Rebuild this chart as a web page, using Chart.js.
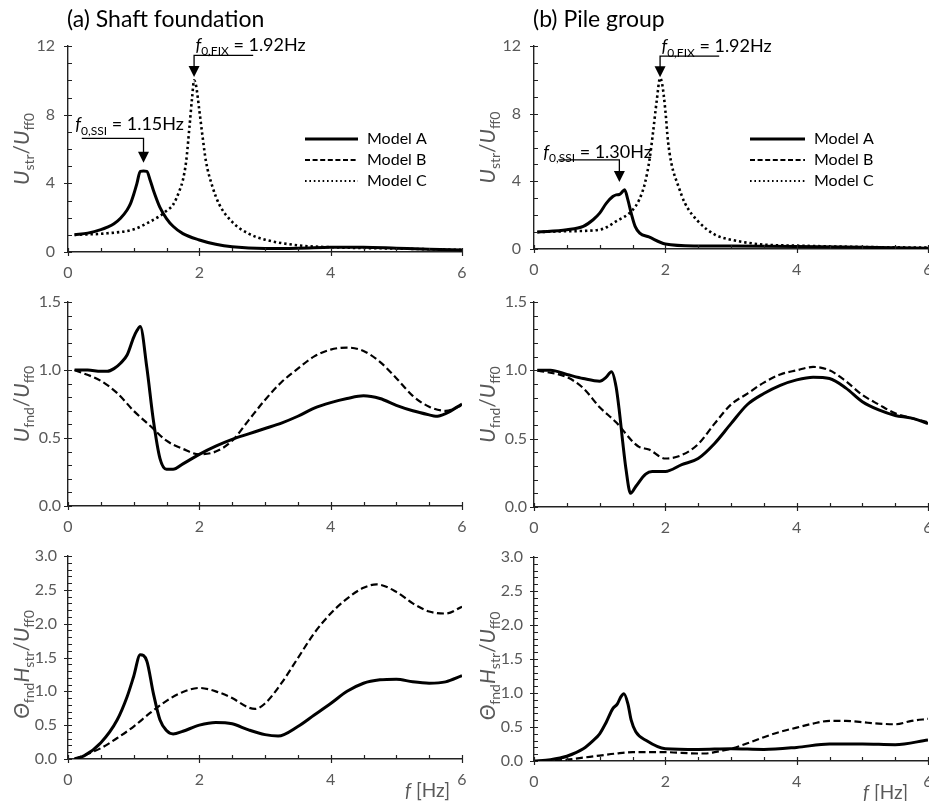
<!DOCTYPE html>
<html>
<head>
<meta charset="utf-8">
<script src="https://cdn.jsdelivr.net/npm/chart.js@4.4.0/dist/chart.umd.min.js"></script>
<style>
  body { margin: 0; width: 929px; height: 801px; overflow: hidden; background: #fff; position: relative; }
  canvas { position: absolute; }
</style>
</head>
<body>
<script>
// ---- data ----
const freqTicks = [0, 2, 4, 6];

// (a) shaft foundation, U_str / U_ff0
const shaftStrFreqA = [0.1, 0.3, 0.5, 0.6, 0.7, 0.8, 0.9, 0.95, 1.0, 1.05, 1.1, 1.15, 1.2, 1.25, 1.3, 1.4, 1.5, 1.6, 1.75, 2.0, 2.25, 2.5, 3.0, 3.5, 4.0, 4.5, 5.0, 5.5, 6.0];
const shaftStrA = [1.0, 1.1, 1.3, 1.45, 1.65, 1.97, 2.45, 2.8, 3.35, 4.0, 4.7, 4.72, 4.7, 4.2, 3.6, 2.6, 1.95, 1.5, 1.07, 0.7, 0.45, 0.3, 0.2, 0.22, 0.27, 0.28, 0.22, 0.16, 0.12];
const shaftStrFreqC = [0.1, 0.6, 1.0, 1.25, 1.4, 1.5, 1.6, 1.7, 1.75, 1.8, 1.85, 1.89, 1.92, 1.95, 2.0, 2.05, 2.1, 2.2, 2.3, 2.5, 2.75, 3.0, 3.5, 4.0, 5.0, 6.0];
const shaftStrC = [1.0, 1.09, 1.32, 1.77, 2.1, 2.4, 2.75, 3.6, 4.2, 5.3, 7.3, 9.0, 10.0, 9.7, 8.25, 6.7, 5.3, 3.8, 2.8, 1.75, 1.07, 0.72, 0.39, 0.28, 0.2, 0.12];

// (b) pile group, U_str / U_ff0
const pileStrFreqA = [0.05, 0.5, 0.75, 0.9, 1.0, 1.1, 1.2, 1.25, 1.3, 1.35, 1.38, 1.43, 1.48, 1.54, 1.61, 1.75, 2.0, 2.5, 3.0, 4.0, 5.0, 6.0];
const pileStrA = [1.0, 1.14, 1.34, 1.73, 2.12, 2.7, 3.1, 3.2, 3.22, 3.4, 3.5, 2.9, 2.12, 1.34, 0.94, 0.71, 0.3, 0.18, 0.17, 0.15, 0.1, 0.05];
const pileStrFreqC = [0.05, 0.5, 1.0, 1.25, 1.5, 1.6, 1.69, 1.76, 1.81, 1.87, 1.92, 1.95, 2.0, 2.04, 2.09, 2.2, 2.3, 2.5, 2.76, 3.0, 3.5, 4.0, 5.0, 6.0];
const pileStrC = [1.0, 1.05, 1.14, 1.63, 2.3, 2.9, 3.9, 5.3, 6.8, 8.8, 10.1, 9.8, 8.2, 6.4, 5.1, 3.7, 2.7, 1.63, 0.84, 0.55, 0.26, 0.2, 0.12, 0.08];

// (a) shaft foundation, U_fnd / U_ff0
const shaftFndFreqA = [0.1, 0.3, 0.5, 0.6, 0.7, 0.8, 0.9, 1.0, 1.05, 1.1, 1.2, 1.3, 1.4, 1.5, 1.6, 1.75, 2.0, 2.25, 2.5, 2.75, 3.0, 3.25, 3.5, 3.75, 4.0, 4.25, 4.5, 4.75, 5.0, 5.25, 5.5, 5.6, 5.75, 6.0];
const shaftFndA = [1.0, 1.0, 0.99, 0.99, 1.01, 1.05, 1.11, 1.24, 1.29, 1.32, 1.02, 0.63, 0.35, 0.27, 0.27, 0.31, 0.38, 0.44, 0.49, 0.53, 0.57, 0.61, 0.66, 0.72, 0.76, 0.79, 0.81, 0.79, 0.74, 0.70, 0.67, 0.66, 0.68, 0.75];
const shaftFndFreqB = [0.1, 0.5, 0.75, 1.0, 1.25, 1.5, 1.75, 2.0, 2.25, 2.5, 2.75, 3.0, 3.25, 3.5, 3.75, 4.0, 4.25, 4.5, 4.75, 5.0, 5.25, 5.5, 5.75, 6.0];
const shaftFndB = [1.0, 0.92, 0.83, 0.70, 0.59, 0.48, 0.42, 0.38, 0.40, 0.48, 0.63, 0.78, 0.91, 1.01, 1.10, 1.15, 1.165, 1.14, 1.06, 0.94, 0.81, 0.73, 0.70, 0.74];

// (b) pile group, U_fnd / U_ff0
const pileFndFreqA = [0.05, 0.25, 0.5, 0.75, 1.0, 1.1, 1.18, 1.25, 1.3, 1.35, 1.4, 1.47, 1.55, 1.7, 1.8, 2.0, 2.25, 2.5, 2.75, 3.0, 3.25, 3.5, 3.75, 4.0, 4.25, 4.5, 4.75, 5.0, 5.25, 5.5, 5.75, 6.0];
const pileFndA = [1.0, 1.0, 0.97, 0.94, 0.92, 0.95, 0.99, 0.88, 0.7, 0.48, 0.28, 0.10, 0.15, 0.24, 0.26, 0.26, 0.31, 0.355, 0.465, 0.61, 0.75, 0.83, 0.89, 0.93, 0.95, 0.94, 0.87, 0.77, 0.71, 0.67, 0.65, 0.61];
const pileFndFreqB = [0.05, 0.5, 0.75, 1.0, 1.25, 1.5, 1.6, 1.75, 2.0, 2.25, 2.5, 2.75, 3.0, 3.25, 3.5, 3.75, 4.0, 4.25, 4.5, 4.75, 5.0, 5.25, 5.5, 5.75, 6.0];
const pileFndB = [1.0, 0.95, 0.87, 0.73, 0.62, 0.48, 0.44, 0.42, 0.355, 0.38, 0.46, 0.61, 0.75, 0.83, 0.91, 0.97, 1.0, 1.025, 1.0, 0.92, 0.82, 0.75, 0.685, 0.65, 0.62];

// (a) shaft foundation, rotation Θ_fnd H_str / U_ff0
const shaftRotFreqA = [0.1, 0.25, 0.5, 0.75, 0.9, 1.0, 1.1, 1.2, 1.3, 1.4, 1.5, 1.6, 1.75, 2.0, 2.25, 2.5, 2.75, 3.0, 3.2, 3.5, 3.75, 4.0, 4.25, 4.5, 4.75, 5.0, 5.25, 5.5, 5.75, 6.0];
const shaftRotA = [0.0, 0.05, 0.24, 0.58, 0.92, 1.22, 1.54, 1.45, 0.97, 0.58, 0.42, 0.37, 0.41, 0.50, 0.54, 0.52, 0.43, 0.36, 0.34, 0.48, 0.65, 0.82, 1.0, 1.12, 1.17, 1.18, 1.14, 1.12, 1.14, 1.23];
const shaftRotFreqB = [0.1, 0.5, 0.75, 1.0, 1.25, 1.5, 1.75, 2.0, 2.25, 2.5, 2.75, 2.85, 3.0, 3.25, 3.5, 3.75, 4.0, 4.25, 4.5, 4.7, 5.0, 5.25, 5.5, 5.75, 6.0];
const shaftRotB = [0.0, 0.16, 0.31, 0.48, 0.68, 0.86, 0.99, 1.05, 1.0, 0.90, 0.76, 0.74, 0.82, 1.12, 1.49, 1.86, 2.15, 2.37, 2.53, 2.58, 2.47, 2.30, 2.18, 2.15, 2.25];

// (b) pile group, rotation
const pileRotFreqA = [0.0, 0.25, 0.5, 0.75, 0.9, 1.0, 1.1, 1.2, 1.27, 1.32, 1.37, 1.43, 1.48, 1.55, 1.71, 2.0, 2.5, 3.0, 3.5, 4.0, 4.5, 5.0, 5.5, 6.0];
const pileRotA = [0.0, 0.02, 0.07, 0.18, 0.30, 0.40, 0.57, 0.77, 0.84, 0.94, 0.99, 0.84, 0.6, 0.43, 0.30, 0.18, 0.17, 0.18, 0.17, 0.20, 0.25, 0.25, 0.24, 0.31];
const pileRotFreqB = [0.0, 0.5, 0.75, 1.0, 1.25, 1.5, 2.0, 2.5, 2.6, 2.75, 3.0, 3.25, 3.5, 3.75, 4.0, 4.25, 4.5, 4.75, 5.0, 5.25, 5.5, 5.75, 6.0];
const pileRotB = [0.0, 0.02, 0.05, 0.08, 0.11, 0.13, 0.13, 0.11, 0.11, 0.13, 0.18, 0.26, 0.35, 0.43, 0.49, 0.55, 0.59, 0.59, 0.57, 0.55, 0.54, 0.59, 0.62];

const modelNames = ['Model A', 'Model B', 'Model C'];

// ---- styling ----
const fontFamily = 'Lato, "Open Sans", sans-serif';
const axisColor = '#222';
const labelColor = '#595959';
const styleA = { borderWidth: 3, borderDash: [] };
const styleB = { borderWidth: 2.2, borderDash: [7, 3.5] };
const styleC = { borderWidth: 2.6, borderDash: [2.4, 2.9] };

function toPoints(xs, ys) {
  return xs.map((x, i) => ({ x: x, y: ys[i] }));
}

function line(label, xs, ys, style) {
  return {
    label: label,
    data: toPoints(xs, ys),
    borderColor: '#000',
    borderWidth: style.borderWidth,
    borderDash: style.borderDash,
    pointRadius: 0,
    cubicInterpolationMode: 'monotone',
    tension: 0.4,
    fill: false
  };
}

function setFont(ctx, kind, size, subSize) {
  if (kind === 's') ctx.font = subSize + 'px ' + fontFamily;
  else if (kind === 'i') ctx.font = 'italic ' + size + 'px ' + fontFamily;
  else ctx.font = size + 'px ' + fontFamily;
}

function drawRich(ctx, parts, x, y, size, subSize, center) {
  let total = 0;
  parts.forEach(p => { setFont(ctx, p[1], size, subSize); total += ctx.measureText(p[0]).width; });
  let cx = center ? x - total / 2 : x;
  ctx.textAlign = 'left';
  ctx.textBaseline = 'alphabetic';
  parts.forEach(p => {
    setFont(ctx, p[1], size, subSize);
    ctx.fillText(p[0], cx, y + (p[1] === 's' ? size * 0.25 : 0));
    cx += ctx.measureText(p[0]).width;
  });
}

function tickValues(min, max, step) {
  const out = [];
  const n = Math.round((max - min) / step);
  for (let i = 0; i <= n; i++) out.push(+(min + i * step).toFixed(6));
  return out;
}

function isMajor(v, step) {
  return Math.abs(v / step - Math.round(v / step)) < 1e-6;
}

const panelPlugin = {
  id: 'panelDecor',
  afterDraw(chart) {
    const cfg = chart.options.plugins.panelDecor;
    const ctx = chart.ctx;
    const xs = chart.scales.x, ys = chart.scales.y;
    const area = chart.chartArea;
    ctx.save();

    // tick marks: minor inside, major crossing
    ctx.strokeStyle = axisColor;
    ctx.lineWidth = 1.2;
    ctx.beginPath();
    xs.ticks.forEach(t => {
      const px = Math.round(xs.getPixelForValue(t.value)) + 0.5;
      const major = isMajor(t.value, cfg.xMajor);
      ctx.moveTo(px, area.bottom - 4);
      ctx.lineTo(px, area.bottom + (major ? 4 : 0));
    });
    ys.ticks.forEach(t => {
      const py = Math.round(ys.getPixelForValue(t.value)) + 0.5;
      const major = isMajor(t.value, cfg.yMajor);
      ctx.moveTo(area.left - (major ? 4 : 0), py);
      ctx.lineTo(area.left + 4, py);
    });
    ctx.stroke();

    // panel title
    ctx.fillStyle = '#000';
    ctx.font = '23px ' + fontFamily;
    ctx.textAlign = 'left';
    ctx.textBaseline = 'alphabetic';
    if (cfg.title) ctx.fillText(cfg.title, area.left - 1, area.top - 19);

    // y-axis title
    ctx.fillStyle = labelColor;
    ctx.save();
    ctx.translate(area.left - 46, (area.top + area.bottom) / 2 + (cfg.yTitleShift || 0));
    ctx.rotate(-Math.PI / 2);
    drawRich(ctx, cfg.yTitle, 0, 7, 21, 14, true);
    ctx.restore();

    // x-axis title
    if (cfg.xTitleX) {
      drawRich(ctx, [['f', 'i'], [' [Hz]', 'n']], area.left + cfg.xTitleX, area.bottom + 38, 19, 13, false);
    }

    // frequency annotations
    ctx.fillStyle = '#000';
    ctx.strokeStyle = '#000';
    (cfg.arrows || []).forEach(a => {
      const ax = xs.getPixelForValue(a.arrowF);
      const lx = xs.getPixelForValue(a.lineF);
      const ly = ys.getPixelForValue(a.lineY);
      const tip = ys.getPixelForValue(a.tipY);
      ctx.lineWidth = 1.3;
      ctx.beginPath();
      ctx.moveTo(lx, ly);
      ctx.lineTo(ax, ly);
      ctx.lineTo(ax, tip - 9);
      ctx.stroke();
      ctx.beginPath();
      ctx.moveTo(ax - 5.5, tip - 11);
      ctx.lineTo(ax + 5.5, tip - 11);
      ctx.lineTo(ax, tip);
      ctx.closePath();
      ctx.fill();
      drawRich(ctx, a.text, xs.getPixelForValue(a.textF), ys.getPixelForValue(a.textY), 18, 12, false);
    });

    // legend
    if (cfg.legend) {
      const lg = cfg.legend;
      const styles = [styleA, { borderWidth: 2, borderDash: [5, 2.6] }, { borderWidth: 2, borderDash: [1.6, 2.8] }];
      modelNames.forEach((name, i) => {
        const y = area.top + lg.y + i * 21;
        ctx.lineWidth = styles[i].borderWidth;
        ctx.setLineDash(styles[i].borderDash);
        ctx.beginPath();
        ctx.moveTo(area.left + lg.x0, y);
        ctx.lineTo(area.left + lg.x1, y);
        ctx.stroke();
        ctx.setLineDash([]);
        ctx.font = '16px ' + fontFamily;
        ctx.textBaseline = 'middle';
        ctx.textAlign = 'left';
        ctx.fillText(name, area.left + lg.x1 + 9, y);
      });
    }
    ctx.restore();
  }
};

function makePanel(p) {
  const padL = 68, padT = 50, padR = 20, padB = 50;
  const cv = document.createElement('canvas');
  cv.width = p.area.right - p.area.left + padL + padR;
  cv.height = p.area.bottom - p.area.top + padT + padB;
  cv.style.left = (p.area.left - padL) + 'px';
  cv.style.top = (p.area.top - padT) + 'px';
  document.body.appendChild(cv);

  const xTicks = tickValues(0, 6, 0.5);
  const yTicks = tickValues(p.yMin, p.yMax, p.yMinor);

  new Chart(cv, {
    type: 'line',
    data: { datasets: p.datasets },
    options: {
      responsive: false,
      animation: false,
      events: [],
      layout: { padding: { left: 0, top: padT, right: padR, bottom: 0 } },
      scales: {
        x: {
          type: 'linear',
          min: 0,
          max: 6,
          afterBuildTicks: s => { s.ticks = xTicks.map(v => ({ value: v })); },
          afterFit: s => { s.height = padB; },
          grid: { display: false, drawTicks: false },
          border: { display: true, color: axisColor, width: 1.4 },
          ticks: {
            autoSkip: false,
            maxRotation: 0,
            padding: 11,
            color: labelColor,
            font: { family: fontFamily, size: 16 },
            callback: v => freqTicks.includes(v) ? String(v) : ''
          }
        },
        y: {
          type: 'linear',
          min: p.yMin,
          max: p.yMax,
          afterBuildTicks: s => { s.ticks = yTicks.map(v => ({ value: v })); },
          afterFit: s => { s.width = padL; },
          grid: { display: false, drawTicks: false },
          border: { display: true, color: axisColor, width: 1.4 },
          ticks: {
            autoSkip: false,
            padding: p.yPad,
            color: labelColor,
            font: { family: fontFamily, size: 16 },
            callback: v => isMajor(v, p.yMajor) ? v.toFixed(p.decimals) : ''
          }
        }
      },
      plugins: {
        legend: { display: false },
        tooltip: { enabled: false },
        panelDecor: {
          title: p.title,
          xMajor: 2,
          yMajor: p.yMajor,
          yTitle: p.yTitle,
          yTitleShift: p.yTitleShift,
          xTitleX: p.xTitleX,
          arrows: p.arrows,
          legend: p.legend
        }
      }
    },
    plugins: [panelPlugin]
  });
}

const strTitle = [['U', 'i'], ['str', 's'], ['/', 'n'], ['U', 'i'], ['ff0', 's']];
const fndTitle = [['U', 'i'], ['fnd', 's'], ['/', 'n'], ['U', 'i'], ['ff0', 's']];
const rotTitle = [['Θ', 'i'], ['fnd', 's'], ['H', 'i'], ['str', 's'], ['/', 'n'], ['U', 'i'], ['ff0', 's']];

const fixLabel = [['f', 'i'], ['0,FIX', 's'], [' = 1.92Hz', 'n']];

makePanel({
  area: { left: 68, top: 46, right: 462, bottom: 252 },
  title: '(a) Shaft foundation',
  yMin: 0, yMax: 12, yMinor: 1, yMajor: 4, decimals: 0, yPad: 13,
  yTitle: strTitle,
  datasets: [
    line(modelNames[0], shaftStrFreqA, shaftStrA, styleA),
    line(modelNames[2], shaftStrFreqC, shaftStrC, styleC)
  ],
  arrows: [
    { text: [['f', 'i'], ['0,SSI', 's'], [' = 1.15Hz', 'n']], textF: 0.11, textY: 7.1, lineF: 0.21, lineY: 6.62, arrowF: 1.15, tipY: 5.2 },
    { text: fixLabel, textF: 1.94, textY: 11.72, lineF: 2.82, lineY: 11.45, arrowF: 1.92, tipY: 10.2 }
  ],
  legend: { x0: 237, x1: 290, y: 93 }
});

makePanel({
  area: { left: 534, top: 46, right: 928, bottom: 249 },
  title: '(b) Pile group',
  yMin: 0, yMax: 12, yMinor: 1, yMajor: 4, decimals: 0, yPad: 13,
  yTitle: strTitle,
  datasets: [
    line(modelNames[0], pileStrFreqA, pileStrA, styleA),
    line(modelNames[2], pileStrFreqC, pileStrC, styleC)
  ],
  arrows: [
    { text: [['f', 'i'], ['0,SSI', 's'], [' = 1.30Hz', 'n']], textF: 0.14, textY: 5.4, lineF: 0.37, lineY: 5.27, arrowF: 1.30, tipY: 3.96 },
    { text: fixLabel, textF: 1.94, textY: 11.64, lineF: 2.82, lineY: 11.4, arrowF: 1.92, tipY: 10.16 }
  ],
  legend: { x0: 216, x1: 271, y: 93 }
});

makePanel({
  area: { left: 68, top: 302, right: 462, bottom: 506 },
  yMin: 0, yMax: 1.5, yMinor: 0.1, yMajor: 0.5, decimals: 1, yPad: 7,
  yTitle: fndTitle,
  datasets: [
    line(modelNames[0], shaftFndFreqA, shaftFndA, styleA),
    line(modelNames[1], shaftFndFreqB, shaftFndB, styleB)
  ]
});

makePanel({
  area: { left: 534, top: 302, right: 928, bottom: 507 },
  yMin: 0, yMax: 1.5, yMinor: 0.1, yMajor: 0.5, decimals: 1, yPad: 7,
  yTitle: fndTitle,
  datasets: [
    line(modelNames[0], pileFndFreqA, pileFndA, styleA),
    line(modelNames[1], pileFndFreqB, pileFndB, styleB)
  ]
});

makePanel({
  area: { left: 68, top: 556, right: 462, bottom: 759 },
  yMin: 0, yMax: 3, yMinor: 0.1, yMajor: 0.5, decimals: 1, yPad: 11,
  yTitle: rotTitle, yTitleShift: 7,
  xTitleX: 337,
  datasets: [
    line(modelNames[0], shaftRotFreqA, shaftRotA, styleA),
    line(modelNames[1], shaftRotFreqB, shaftRotB, styleB)
  ]
});

makePanel({
  area: { left: 534, top: 557, right: 928, bottom: 761 },
  yMin: 0, yMax: 3, yMinor: 0.1, yMajor: 0.5, decimals: 1, yPad: 11,
  yTitle: rotTitle, yTitleShift: 7,
  xTitleX: 329,
  datasets: [
    line(modelNames[0], pileRotFreqA, pileRotA, styleA),
    line(modelNames[1], pileRotFreqB, pileRotB, styleB)
  ]
});
</script>
</body>
</html>
